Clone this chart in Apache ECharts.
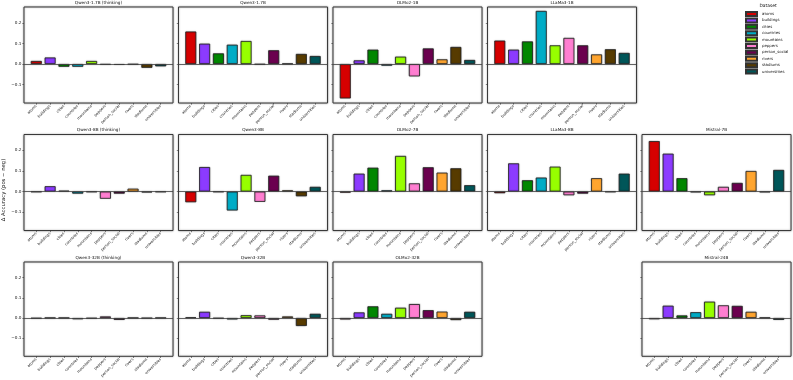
<!DOCTYPE html>
<html>
<head>
<meta charset="utf-8">
<script src="https://cdn.jsdelivr.net/npm/echarts@6/dist/echarts.min.js"></script>
<style>
  html, body { margin: 0; padding: 0; background: #fff; }
  #chart { width: 793px; height: 380px; }
</style>
</head>
<body>
<div id="chart"></div>
<script>
// datasets (x categories) and their colours
var categories = ["atoms", "buildings", "cities", "countries", "mountains", "peppers", "person_social", "rivers", "stadiums", "universities"];
var datasetColors = ["#d60000", "#8c3bff", "#018700", "#00acc6", "#97ff00", "#ff7ed1", "#6b004f", "#ffa52f", "#573b00", "#005659"];
var yTicks = [-0.1, 0.0, 0.1, 0.2];

// delta accuracy (pos - neg) per model, in category order
var qwen17bThinking = [0.015, 0.032, -0.013, -0.013, 0.015, -0.003, -0.004, -0.002, -0.018, -0.011];
var qwen17b         = [0.158, 0.099, 0.052, 0.094, 0.112, -0.002, 0.067, 0.002, 0.049, 0.039];
var olmo1b          = [-0.167, 0.018, 0.070, -0.008, 0.036, -0.060, 0.076, 0.023, 0.083, 0.020];
var llama1b         = [0.114, 0.070, 0.110, 0.258, 0.091, 0.127, 0.091, 0.047, 0.072, 0.054];
var qwen8bThinking  = [-0.002, 0.026, 0.004, -0.010, -0.002, -0.035, -0.010, 0.014, -0.004, -0.002];
var qwen8b          = [-0.052, 0.119, -0.002, -0.092, 0.081, -0.050, 0.077, 0.006, -0.023, 0.023];
var olmo7b          = [-0.005, 0.087, 0.116, 0.006, 0.173, 0.040, 0.118, 0.092, 0.113, 0.031];
var llama8b         = [-0.008, 0.137, 0.055, 0.068, 0.121, -0.018, -0.010, 0.065, -0.002, 0.087];
var mistral7b       = [0.245, 0.184, 0.065, -0.003, -0.018, 0.023, 0.042, 0.100, -0.003, 0.105];
var qwen32bThinking = [-0.002, 0.001, 0.001, -0.006, -0.002, 0.008, -0.009, 0.001, -0.001, 0.001];
var qwen32b         = [0.003, 0.031, -0.002, -0.007, 0.014, 0.013, -0.008, 0.008, -0.039, 0.021];
var olmo32b         = [-0.007, 0.028, 0.058, 0.021, 0.051, 0.069, 0.039, 0.032, -0.010, 0.031];
var mistral24b      = [-0.006, 0.061, 0.013, 0.029, 0.081, 0.063, 0.060, 0.031, 0.002, -0.009];

var panels = [
    { name: "Qwen3-1.7B (thinking)", values: qwen17bThinking, row: 0, col: 0 },
    { name: "Qwen3-1.7B", values: qwen17b, row: 0, col: 1 },
    { name: "OLMo2-1B", values: olmo1b, row: 0, col: 2 },
    { name: "LLaMa3-1B", values: llama1b, row: 0, col: 3 },
    { name: "Qwen3-8B (thinking)", values: qwen8bThinking, row: 1, col: 0 },
    { name: "Qwen3-8B", values: qwen8b, row: 1, col: 1 },
    { name: "OLMo2-7B", values: olmo7b, row: 1, col: 2 },
    { name: "LLaMa3-8B", values: llama8b, row: 1, col: 3 },
    { name: "Mistral-7B", values: mistral7b, row: 1, col: 4 },
    { name: "Qwen3-32B (thinking)", values: qwen32bThinking, row: 2, col: 0 },
    { name: "Qwen3-32B", values: qwen32b, row: 2, col: 1 },
    { name: "OLMo2-32B", values: olmo32b, row: 2, col: 2 },
    { name: "Mistral-24B", values: mistral24b, row: 2, col: 4 }
];

var colLeft = [24, 178.5, 333, 487.5, 642];
var rowTop = [7, 134.5, 262];
var panelW = 149, panelH = 96;
var font = "DejaVu Sans";
var tickIdx = categories.map(function (c, k) { return k; });

var grids = [], xAxes = [], yAxes = [], series = [], titles = [];

panels.forEach(function (p, i) {
    var left = colLeft[p.col], top = rowTop[p.row];
    grids.push({
        left: left, top: top, width: panelW, height: panelH,
        show: true, borderColor: "#3a3a3a", borderWidth: 1,
        backgroundColor: "#fff",
        shadowColor: "rgba(0,0,0,0.35)", shadowBlur: 2
    });
    xAxes.push({
        gridIndex: i, type: "value", min: -0.89, max: 9.89, position: "bottom",
        splitLine: { show: false },
        axisLine: { show: false, onZero: false },
        axisTick: { show: true, length: 1.7, lineStyle: { color: "#333", width: 0.6 }, customValues: tickIdx },
        axisLabel: {
            rotate: 45, fontSize: 3.7, fontFamily: font, color: "#111", margin: 2.5,
            customValues: tickIdx,
            formatter: function (v) { return categories[Math.round(v)]; }
        }
    });
    yAxes.push({
        gridIndex: i, type: "value", min: -0.189, max: 0.277, position: "left",
        splitLine: { show: false },
        axisLine: { show: false, onZero: false },
        axisTick: { show: true, length: 1.7, lineStyle: { color: "#333", width: 0.6 }, customValues: yTicks },
        axisLabel: {
            show: p.col === 0, fontSize: 4.2, fontFamily: font, color: "#111", margin: 2.5,
            customValues: yTicks,
            formatter: function (v) { return (v < 0 ? "\u2212" : "") + Math.abs(v).toFixed(1); }
        }
    });
    series.push({
        type: "bar", xAxisIndex: i, yAxisIndex: i, barWidth: 11,
        data: p.values.map(function (v, k) {
            return { value: [k, v], itemStyle: { color: datasetColors[k] } };
        }),
        itemStyle: {
            borderColor: "#222", borderWidth: 0.8,
            shadowColor: "rgba(0,0,0,0.35)", shadowBlur: 1.5
        },
        markLine: {
            silent: true, symbol: "none", label: { show: false },
            lineStyle: { color: "#444", width: 0.8, type: "solid",
                         shadowColor: "rgba(0,0,0,0.3)", shadowBlur: 1.5 },
            data: [{ yAxis: 0 }]
        },
        z: 3
    });
    titles.push({
        text: p.name, left: left + panelW / 2, top: top - 6.5, textAlign: "center", padding: 0,
        textStyle: { fontSize: 4.2, fontWeight: "normal", fontFamily: font, color: "#111" }
    });
});

// hidden grid holding the legend-only series
var hidden = grids.length;
grids.push({ left: -100, top: -100, width: 10, height: 10, show: false });
xAxes.push({ gridIndex: hidden, type: "category", data: ["x"], show: false });
yAxes.push({ gridIndex: hidden, type: "value", show: false });
categories.forEach(function (c, k) {
    series.push({ type: "bar", name: c, xAxisIndex: hidden, yAxisIndex: hidden, data: [],
                  itemStyle: { color: datasetColors[k], borderColor: "#333", borderWidth: 0.5 } });
});

titles.push({
    text: "Dataset", left: 768, top: 3.5, textAlign: "center", padding: 0,
    textStyle: { fontSize: 4.4, fontWeight: "normal", fontFamily: font, color: "#111" }
});

var chart = echarts.init(document.getElementById("chart"), null, { renderer: "canvas" });
chart.setOption({
    animation: false,
    title: titles,
    grid: grids,
    xAxis: xAxes,
    yAxis: yAxes,
    series: series,
    legend: {
        data: categories, orient: "vertical", left: 745, top: 11, padding: 0,
        icon: "rect", itemWidth: 11, itemHeight: 4, itemGap: 0.4,
        textStyle: { fontSize: 3.9, lineHeight: 4, fontFamily: font, color: "#111" }
    },
    graphic: [{
        type: "text", x: 4, y: 190, rotation: Math.PI / 2,
        style: { text: "\u0394 Accuracy (pos \u2212 neg)", fontSize: 5.3, fontFamily: font, fill: "#111",
                 textAlign: "center", textVerticalAlign: "middle" }
    }]
});
window.addEventListener("resize", function () { chart.resize(); });
</script>
</body>
</html>
